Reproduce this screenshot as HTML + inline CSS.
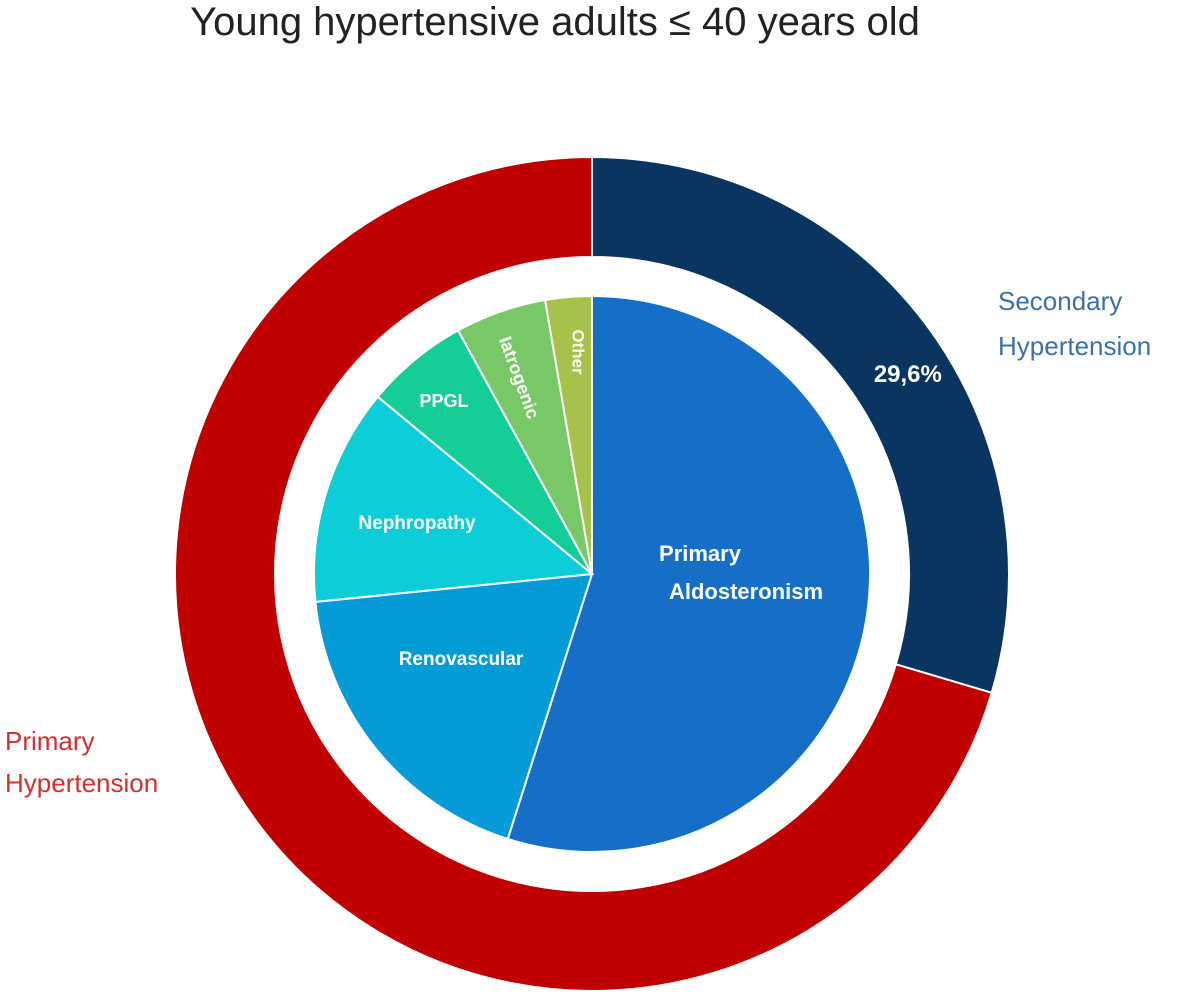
<!DOCTYPE html>
<html><head><meta charset="utf-8"><style>
html,body{margin:0;padding:0;background:#fff;width:1200px;height:994px;overflow:hidden}
text{font-family:"Liberation Sans",sans-serif}
</style></head><body>
<svg id="chart" width="1200" height="994" viewBox="0 0 1200 994">
<text x="555" y="35" text-anchor="middle" font-size="40" fill="#222">Young hypertensive adults ≤ 40 years old</text>
<g id="outer"></g>
<g id="inner"></g>
<text x="998" y="310" font-size="26" fill="#3E6FA8">Secondary</text>
<text x="998" y="355" font-size="26" fill="#3E6FA8">Hypertension</text>
<text x="5" y="750" font-size="26" fill="#D03030">Primary</text>
<text x="5" y="792" font-size="26" fill="#D03030">Hypertension</text>
</svg>
<script>
const outerCategories = ["Secondary Hypertension", "Primary Hypertension"];
const outerValues = [29.6, 70.4];
const outerColors = ["#0B3561", "#C00000"];
const innerCategories = ["Primary Aldosteronism", "Renovascular", "Nephropathy", "PPGL", "Iatrogenic", "Other"];
const innerValues = [54.9, 18.5, 12.6, 6.0, 5.3, 2.7];
const innerColors = ["#156FC6", "#049BD6", "#0CCDD8", "#15CD96", "#79C867", "#A6C24A"];
const NS = "http://www.w3.org/2000/svg";
const cx = 592, cy = 574;
function pt(a, r){ const t = a*Math.PI/180; return [cx + r*Math.sin(t), cy - r*Math.cos(t)]; }
function arcPath(a0, a1, r0, r1){
  const large = (a1 - a0) > 180 ? 1 : 0;
  const p0 = pt(a0, r1), p1 = pt(a1, r1);
  if (r0 === 0) return `M${cx},${cy}L${p0[0]},${p0[1]}A${r1},${r1} 0 ${large} 1 ${p1[0]},${p1[1]}Z`;
  const q1 = pt(a1, r0), q0 = pt(a0, r0);
  return `M${p0[0]},${p0[1]}A${r1},${r1} 0 ${large} 1 ${p1[0]},${p1[1]}L${q1[0]},${q1[1]}A${r0},${r0} 0 ${large} 0 ${q0[0]},${q0[1]}Z`;
}
function draw(g, vals, cols, names, r0, r1){
  const tot = vals.reduce((a,b)=>a+b,0);
  let a = 0; const mids = [];
  vals.forEach((v,i)=>{
    const a1 = a + v/tot*360;
    const p = document.createElementNS(NS, "path");
    p.setAttribute("d", arcPath(a, a1, r0, r1));
    p.setAttribute("fill", cols[i]);
    p.setAttribute("stroke", "#fff");
    p.setAttribute("stroke-width", "2");
    
    
    g.appendChild(p);
    mids.push((a + a1)/2);
    a = a1;
  });
  return mids;
}
const om = draw(document.getElementById("outer"), outerValues, outerColors, outerCategories, 317, 417);
const im = draw(document.getElementById("inner"), innerValues, innerColors, innerCategories, 0, 278);
function label(txt, x, y, size, rot, name){
  const t = document.createElementNS(NS, "text");
  t.setAttribute("x", x); t.setAttribute("y", y);
  t.setAttribute("font-size", size); t.setAttribute("fill", "#fff");
  t.setAttribute("font-weight", "bold"); t.setAttribute("text-anchor", "middle");
  t.setAttribute("dominant-baseline", "middle");
  if (rot) t.setAttribute("transform", `rotate(${rot} ${x} ${y})`);
  t.textContent = txt;
  
  
  document.getElementById("chart").appendChild(t);
}
const sp = pt(om[0] + 8, 367);
label(outerValues[0].toFixed(1).replace(".", ",") + "%", sp[0] - 6, sp[1] - 22, 24, 0, "secondary-percent-label");
label("Primary", 700, 555, 22, 0, "label-primary-aldosteronism");
label("Aldosteronism", 746, 593, 22, 0, "label-primary-aldosteronism-2");
label("Renovascular", 461, 660, 19, 0, "label-renovascular");
label("Nephropathy", 417, 524, 19, 0, "label-nephropathy");
label("PPGL", 444, 402, 18, 0, "label-ppgl");
label("Iatrogenic", 518, 378, 18, 70, "label-iatrogenic");
label("Other", 577, 352, 17, 90, "label-other");
</script>
</body></html>
